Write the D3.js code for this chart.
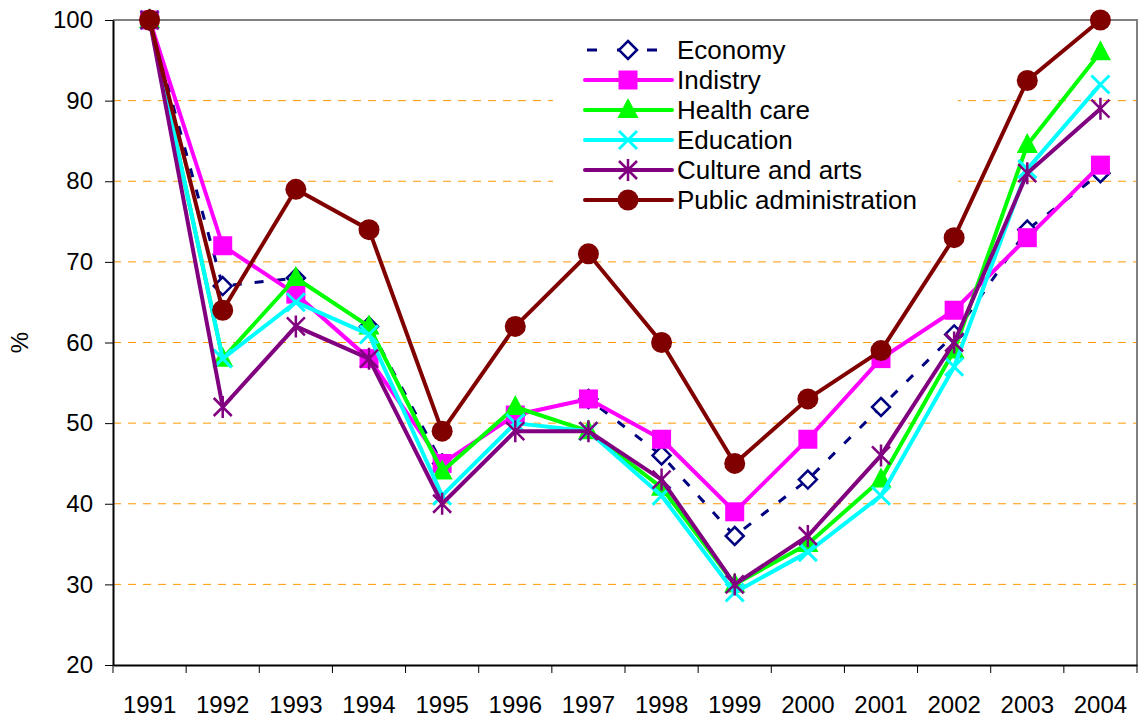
<!DOCTYPE html>
<html>
<head>
<meta charset="utf-8">
<script src="https://cdn.jsdelivr.net/npm/d3@7"></script>
<style>
  body { margin: 0; background: #fff; }
  svg { display: block; font-family: Arial, "Liberation Sans", sans-serif; }
  .axis path, .axis line { stroke: #000; }
  .axis text { font-size: 24px; fill: #000; }
</style>
</head>
<body>
<svg id="chart" width="1143" height="720"></svg>
<script>
// data
var years = ["1991", "1992", "1993", "1994", "1995", "1996", "1997", "1998", "1999", "2000", "2001", "2002", "2003", "2004"];
var economy   = [100, 67, 68, 62, 45, 51, 53, 46, 36, 43, 52, 61, 74, 81];
var industry  = [100, 72, 66, 58, 45, 51, 53, 48, 39, 48, 58, 64, 73, 82];
var health    = [100, 58, 68, 62, 44, 52, 49, 42, 30, 35, 43, 59, 84.5, 96];
var education = [100, 58, 65, 61, 41, 50, 49, 41, 29, 34, 41, 57, 81.5, 92];
var culture   = [100, 52, 62, 58, 40, 49, 49, 43, 30, 36, 46, 60, 81, 89];
var publicAdm = [100, 64, 79, 74, 49, 62, 71, 60, 45, 53, 59, 73, 92.5, 100];
var yTicks = [20, 30, 40, 50, 60, 70, 80, 90, 100];

var series = [
  { name: "Economy", values: economy, color: "#000080", marker: "diamond", dash: "9,13", width: 3 },
  { name: "Indistry", values: industry, color: "#FF00FF", marker: "square", width: 4 },
  { name: "Health care", values: health, color: "#00FF00", marker: "triangle", width: 4 },
  { name: "Education", values: education, color: "#00FFFF", marker: "cross", width: 4 },
  { name: "Culture and arts", values: culture, color: "#800080", marker: "star", width: 4 },
  { name: "Public administration", values: publicAdm, color: "#800000", marker: "circle", width: 4 }
];

var margin = { top: 20, right: 6, bottom: 55, left: 113 };
var svg = d3.select("#chart");
var width = +svg.attr("width") - margin.left - margin.right;
var height = +svg.attr("height") - margin.top - margin.bottom;
var g = svg.append("g").attr("transform", "translate(" + margin.left + "," + margin.top + ")");

var xBand = d3.scaleBand().domain(years).range([0, width]);
var x = d3.scalePoint().domain(years).range([0, width]).padding(0.5);
var y = d3.scaleLinear().domain([20, 100]).range([height, 0]);

// gridlines
g.append("g").selectAll("line")
  .data(yTicks.filter(function (d) { return d > 20 && d < 100; }))
  .join("line")
  .attr("x1", 0).attr("x2", width)
  .attr("y1", function (d) { return y(d); }).attr("y2", function (d) { return y(d); })
  .attr("stroke", "#FF9900").attr("stroke-width", 1).attr("stroke-dasharray", "8,7");

// plot border top / right
g.append("path")
  .attr("d", "M0," + y(100) + "H" + width + "V" + height)
  .attr("fill", "none").attr("stroke", "#808080").attr("stroke-width", 2);

// axes
var yAxis = g.append("g").attr("class", "axis")
  .call(d3.axisLeft(y).tickValues(yTicks).tickSize(8).tickPadding(12).tickSizeOuter(0));
yAxis.select(".domain").attr("stroke-width", 2);

var xAxis = g.append("g").attr("class", "axis")
  .attr("transform", "translate(0," + height + ")")
  .call(d3.axisBottom(xBand).tickSize(0).tickPadding(31).tickSizeOuter(0));
xAxis.select(".domain").attr("stroke-width", 2);
xAxis.selectAll(".tick line").remove();

var bounds = years.map(function (d) { return xBand(d); }).concat([width]);
g.append("g").selectAll("line")
  .data(bounds).join("line")
  .attr("x1", function (d) { return d; }).attr("x2", function (d) { return d; })
  .attr("y1", height).attr("y2", height + 8)
  .attr("stroke", "#000").attr("stroke-width", 1);

svg.append("text")
  .attr("transform", "translate(28," + (margin.top + height / 2) + ") rotate(-90)")
  .attr("text-anchor", "middle")
  .style("font-size", "24px")
  .text("%");

// legend box
var legend = svg.append("g").attr("transform", "translate(553,30)");
legend.append("rect").attr("width", 405).attr("height", 188).attr("fill", "#fff");

// marker shapes
function drawMarker(sel, s) {
  var c = s.color;
  if (s.marker === "diamond") {
    sel.append("path").attr("d", "M0,-9L9,0L0,9L-9,0Z")
      .attr("fill", "#fff").attr("stroke", c).attr("stroke-width", 2.5);
  } else if (s.marker === "square") {
    sel.append("rect").attr("x", -9.5).attr("y", -9.5).attr("width", 19).attr("height", 19).attr("fill", c);
  } else if (s.marker === "triangle") {
    sel.append("path").attr("d", "M0,-12L10.5,8L-10.5,8Z").attr("fill", c);
  } else if (s.marker === "cross") {
    sel.append("path").attr("d", "M-9,-9L9,9M-9,9L9,-9")
      .attr("stroke", c).attr("stroke-width", 3);
  } else if (s.marker === "star") {
    sel.append("path").attr("d", "M-9,-9L9,9M-9,9L9,-9M0,-11V11")
      .attr("stroke", c).attr("stroke-width", 2.5);
  } else if (s.marker === "circle") {
    sel.append("circle").attr("r", 10.5).attr("fill", c);
  }
}

var line = d3.line()
  .x(function (d, i) { return x(years[i]); })
  .y(function (d) { return y(d); });

series.forEach(function (s) {
  var sg = g.append("g");
  sg.append("path")
    .datum(s.values)
    .attr("d", line)
    .attr("fill", "none")
    .attr("stroke", s.color)
    .attr("stroke-width", s.width)
    .attr("stroke-linejoin", "round")
    .attr("stroke-dasharray", s.dash || null);
  sg.selectAll("g.m")
    .data(s.values).join("g")
    .attr("class", "m")
    .attr("transform", function (d, i) { return "translate(" + x(years[i]) + "," + y(d) + ")"; })
    .each(function () { drawMarker(d3.select(this), s); });
});

// legend entries
series.forEach(function (s, i) {
  var row = legend.append("g").attr("transform", "translate(0," + (20 + i * 30) + ")");
  row.append("line")
    .attr("x1", 32).attr("x2", 119)
    .attr("stroke", s.color).attr("stroke-width", s.width)
    .attr("stroke-linecap", s.dash ? "butt" : "round")
    .attr("stroke-dasharray", s.dash ? "10,20" : null)
    .attr("stroke-dashoffset", s.dash ? -2 : null);
  var m = row.append("g").attr("transform", "translate(75,0)");
  drawMarker(m, s);
  row.append("text")
    .attr("x", 124).attr("y", 9)
    .style("font-size", "26px")
    .text(s.name);
});
</script>
</body>
</html>
